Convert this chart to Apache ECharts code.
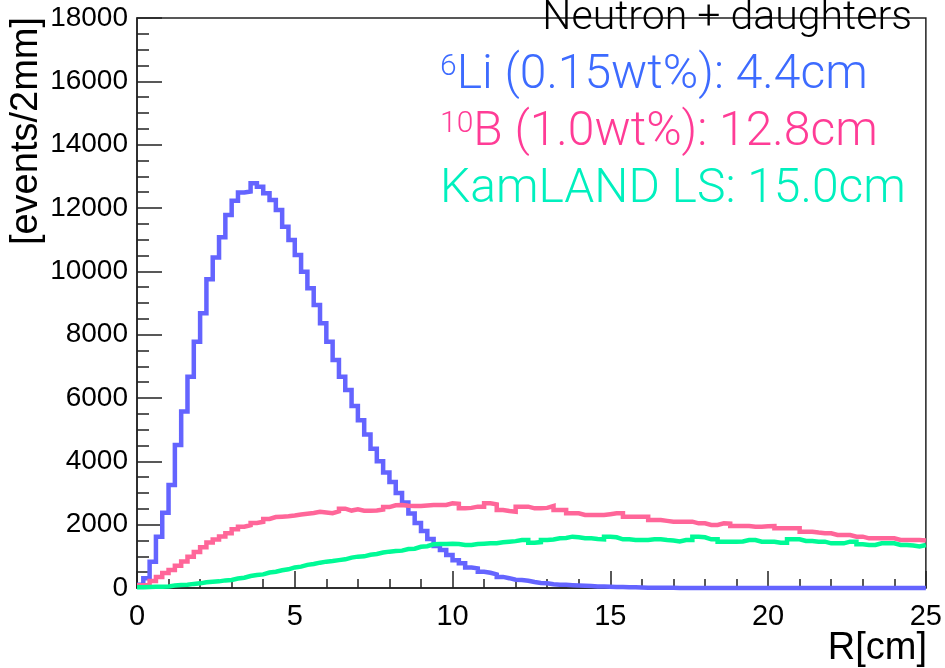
<!DOCTYPE html>
<html><head><meta charset="utf-8">
<script src="https://cdn.jsdelivr.net/npm/echarts@6/dist/echarts.min.js"></script>
<style>html,body{margin:0;padding:0;background:#fff}#c{width:945px;height:668px}</style>
</head><body><div id="c"></div>
<script>
// bin width in cm (2 mm)
const binWidth = 0.2;
const xRange = [0, 25];
const yRange = [0, 18000];

// 6Li (0.15wt%) histogram, events per 2 mm bin
const li6 = [100,310,830,1620,2380,3250,4515,5570,6675,7780,
 8675,9750,10440,11075,11780,12230,12490,12520,12780,12675,
 12465,12250,11935,11410,10990,10515,9990,9465,8937,8360,
 7780,7200,6675,6250,5750,5300,4850,4400,4000,3650,
 3350,3000,2700,2350,2050,1800,1550,1330,1200,1040,
 880,780,650,620,510,480,430,350,310,260,
 250,230,190,160,150,120,100,100,90,80,
 70,60,50,45,40,35,30,25,20,15,
 10,10,5,5,5,3,2,2,1,1,
 0,0,0,0,0,0,0,0,0,0,
 0,0,0,0,0,0,0,0,0,0,
 0,0,0,0,0,0,0,0,0,0,
 0,0,0,0,0];

// 10B (1.0wt%) histogram
const b10 = [90,130,220,350,470,570,700,840,990,1140,
 1290,1440,1530,1630,1730,1853,1937,1985,2055,2090,
 2180,2240,2253,2265,2290,2320,2345,2370,2405,2385,
 2360,2420,2505,2445,2484,2442,2442,2450,2480,2555,
 2610,2621,2600,2590,2590,2605,2621,2621,2621,2674,
 2660,2516,2530,2569,2569,2674,2640,2463,2430,2411,
 2569,2569,2516,2516,2530,2590,2463,2463,2358,2358,
 2306,2306,2306,2306,2330,2358,2358,2253,2253,2253,
 2253,2147,2147,2120,2095,2095,2095,2095,2042,2042,
 1990,1990,2042,2030,1958,1958,1958,1937,1937,1950,
 1958,1884,1884,1884,1884,1779,1779,1750,1727,1727,
 1674,1674,1674,1621,1621,1569,1569,1569,1569,1569,
 1516,1516,1516,1516,1500];

// KamLAND LS histogram
const kamland = [20,30,40,42,50,80,95,100,130,147,
 180,200,210,240,253,300,326,380,411,430,
 490,516,560,590,650,674,730,758,800,832,
 850,880,905,960,990,1000,1050,1074,1120,1148,
 1170,1180,1230,1240,1300,1320,1380,1390,1390,1400,
 1390,1358,1358,1390,1400,1411,1411,1442,1463,1480,
 1516,1516,1432,1450,1516,1530,1569,1580,1621,1600,
 1569,1569,1550,1537,1621,1600,1537,1537,1516,1516,
 1516,1537,1537,1516,1500,1470,1516,1516,1621,1600,
 1537,1537,1463,1463,1463,1470,1516,1516,1463,1463,
 1463,1432,1432,1537,1537,1484,1484,1463,1463,1411,
 1411,1411,1463,1463,1380,1358,1358,1411,1411,1411,
 1358,1358,1340,1310,1358];

const seriesNames = ['6Li (0.15wt%)', '10B (1.0wt%)', 'KamLAND LS'];
const lineColors = ['#6464ff', '#ff6699', '#00fa96'];
const textColors = ['#3d6bff', '#ff3c96', '#00f0be'];
const legendSup = ['6', '10', ''];
const legendText = ['Li (0.15wt%): 4.4cm', 'B (1.0wt%): 12.8cm', 'KamLAND LS: 15.0cm'];
const titleText = 'Neutron + daughters';
const xTitle = 'R[cm]';
const yTitle = '[events/2mm]';

function toSteps(vals) {
  const pts = vals.map((v, i) => [+(i * binWidth).toFixed(3), v]);
  pts.push([xRange[1], vals[vals.length - 1]]);
  return pts;
}

const chart = echarts.init(document.getElementById('c'), null, {renderer: 'canvas'});
const tickFont = 'Liberation Sans';
const lightFont = 'Roboto';

const allData = [li6, b10, kamland];
const series = allData.map((d, k) => ({
  name: seriesNames[k],
  type: 'line',
  step: 'end',
  data: toSteps(d),
  showSymbol: false,
  symbol: 'none',
  clip: false,
  z: 3 + k,
  lineStyle: {color: lineColors[k], width: 4.5, cap: 'butt', join: 'miter'}
}));

const legendGraphics = legendText.map((t, k) => ({
  type: 'text',
  x: 440,
  y: 76 + k * 57,
  z: 20,
  style: {
    text: (legendSup[k] ? '{s|' + legendSup[k] + '}' : '') + t,
    fill: textColors[k],
    fontSize: 48,
    fontWeight: 300,
    fontFamily: lightFont,
    textVerticalAlign: 'middle',
    rich: {s: {fontSize: 30, fontWeight: 300, fontFamily: lightFont, fill: textColors[k], verticalAlign: 'top'}}
  }
}));

chart.setOption({
  animation: false,
  backgroundColor: '#fff',
  grid: {left: 137, right: 18, top: 18, bottom: 80, show: true, borderColor: '#222', borderWidth: 1.5},
  xAxis: {
    type: 'value', min: xRange[0], max: xRange[1], interval: 5,
    axisLine: {show: true, onZero: false, lineStyle: {color: '#222', width: 1.5}},
    axisTick: {show: true, inside: true, length: 17, lineStyle: {color: '#222', width: 1.5}},
    minorTick: {show: true, splitNumber: 5, length: 9, lineStyle: {color: '#222', width: 1.5}},
    splitLine: {show: false},
    axisLabel: {fontSize: 29, color: '#000', margin: 14, fontFamily: tickFont, showMaxLabel: true, showMinLabel: true,
      formatter: v => String(v)}
  },
  yAxis: {
    type: 'value', min: yRange[0], max: yRange[1], interval: 2000,
    axisLine: {show: true, onZero: false, lineStyle: {color: '#222', width: 1.5}},
    axisTick: {show: true, inside: true, length: 25, lineStyle: {color: '#222', width: 1.5}},
    minorTick: {show: true, splitNumber: 4, length: 12, lineStyle: {color: '#222', width: 1.5}},
    splitLine: {show: false},
    axisLabel: {fontSize: 28, color: '#000', margin: 9, fontFamily: tickFont, showMaxLabel: true, showMinLabel: true,
      formatter: v => String(v)}
  },
  series: series,
  graphic: [
    {type: 'text', x: 912, y: 19, z: 20, style: {text: titleText, fill: '#000', fontSize: 41, fontWeight: 300, fontFamily: lightFont, textAlign: 'right', textVerticalAlign: 'middle'}},
    {type: 'text', x: 927, y: 668, z: 20, style: {text: xTitle, fill: '#000', fontSize: 38, fontFamily: tickFont, textAlign: 'right', textVerticalAlign: 'bottom'}},
    {type: 'text', x: 46, y: 17, rotation: Math.PI / 2, z: 20, style: {text: yTitle, fill: '#000', fontSize: 38, fontFamily: tickFont, textAlign: 'right', textVerticalAlign: 'bottom'}}
  ].concat(legendGraphics)
});
</script>
</body></html>
